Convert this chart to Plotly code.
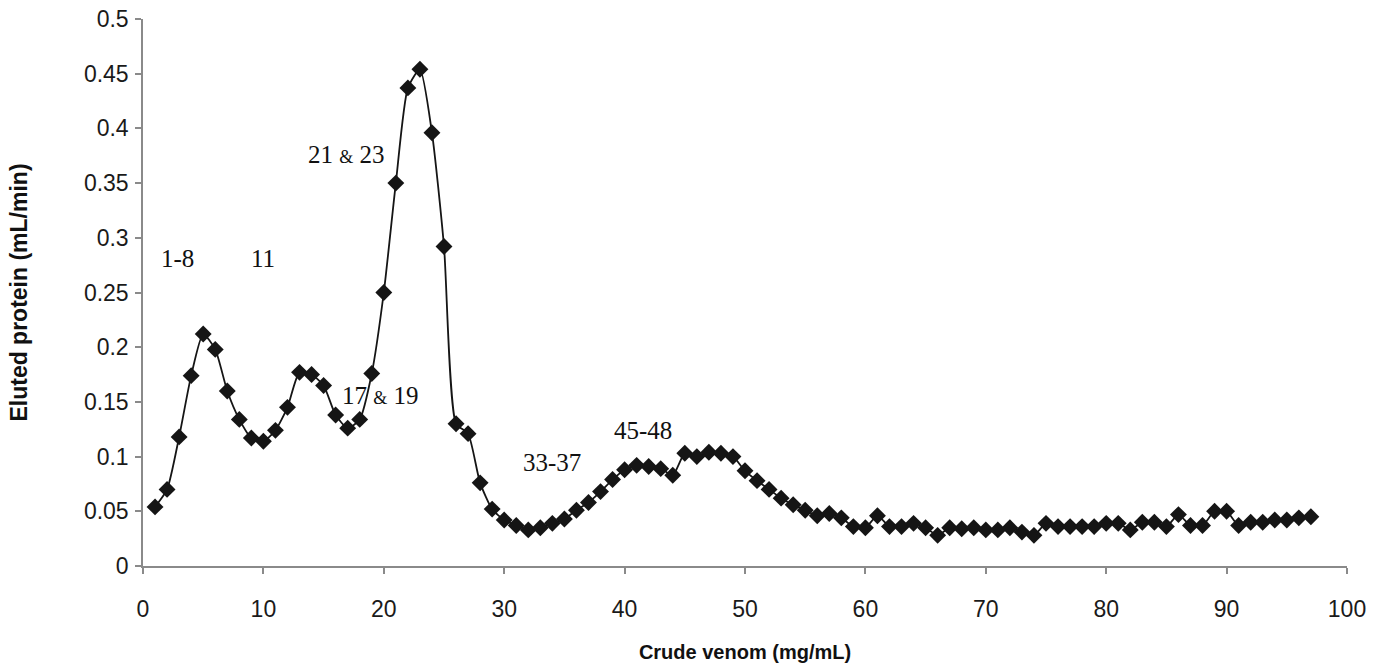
import plotly.graph_objects as go

# Fraction number / crude venom concentration (mg/mL)
fraction = list(range(1, 98))

# Eluted protein (mL/min) for each fraction
eluted = [
    0.054, 0.070, 0.118, 0.174, 0.212, 0.198, 0.160, 0.134, 0.117, 0.114,
    0.124, 0.145, 0.177, 0.175, 0.165, 0.138, 0.126, 0.134, 0.176, 0.250,
    0.350, 0.437, 0.454, 0.396, 0.292, 0.130, 0.121, 0.076, 0.052, 0.042,
    0.037, 0.033, 0.035, 0.039, 0.043, 0.051, 0.058, 0.068, 0.079, 0.088,
    0.092, 0.091, 0.089, 0.083, 0.103, 0.100, 0.104, 0.103, 0.100, 0.087,
    0.078, 0.070, 0.062, 0.056, 0.051, 0.046, 0.048, 0.044, 0.036, 0.035,
    0.046, 0.036, 0.036, 0.039, 0.035, 0.028, 0.035, 0.034, 0.035, 0.033,
    0.033, 0.035, 0.031, 0.028, 0.039, 0.036, 0.036, 0.036, 0.036, 0.039,
    0.039, 0.033, 0.040, 0.040, 0.036, 0.047, 0.037, 0.037, 0.050, 0.050,
    0.037, 0.040, 0.040, 0.042, 0.042, 0.044, 0.045,
]

# Peak labels and where they sit in data coordinates
peak_labels = ["1-8", "11", "21 & 23", "17 & 19", "33-37", "45-48"]
peak_x = [2.9, 10.0, 16.9, 19.7, 34.0, 41.5]
peak_y = [0.281, 0.281, 0.376, 0.156, 0.095, 0.124]

x_ticks = [0, 10, 20, 30, 40, 50, 60, 70, 80, 90, 100]
y_ticks = [0, 0.05, 0.1, 0.15, 0.2, 0.25, 0.3, 0.35, 0.4, 0.45, 0.5]
y_tick_text = ["0", "0.05", "0.1", "0.15", "0.2", "0.25", "0.3", "0.35", "0.4", "0.45", "0.5"]

ink = "#151515"
axis_grey = "#8a8a8a"
tick_font = dict(family="Liberation Sans Narrow, Arial Narrow, Liberation Sans, sans-serif",
                 size=23, color="#1a1a1a")

fig = go.Figure()
fig.add_trace(go.Scatter(
    x=fraction,
    y=eluted,
    mode="lines+markers",
    line=dict(color=ink, width=1.8, shape="spline", smoothing=0.6),
    marker=dict(symbol="diamond", size=13, color=ink, line=dict(width=0)),
    showlegend=False,
    hoverinfo="x+y",
))


def label_html(t):
    # the ampersand is set a little smaller than the numbers
    return t.replace("&", "<span style='font-size:18px'>&amp;</span>")


for t, px, py in zip(peak_labels, peak_x, peak_y):
    fig.add_annotation(
        x=px, y=py, text=label_html(t), showarrow=False,
        font=dict(family="Liberation Serif, Times New Roman, serif", size=25, color="#111111"),
        xanchor="center", yanchor="middle",
    )

fig.update_layout(
    width=1382,
    height=667,
    margin=dict(l=143, r=35, t=19, b=101),
    paper_bgcolor="white",
    plot_bgcolor="white",
    font=dict(family="Liberation Sans, Arial, sans-serif", size=17, color="#222222"),
)

fig.update_xaxes(
    range=[0, 100],
    tickvals=x_ticks,
    ticks="outside", ticklen=6, tickwidth=1.5, tickcolor=axis_grey,
    showline=True, linecolor=axis_grey, linewidth=1.5,
    showgrid=False, zeroline=False,
    automargin=False,
    tickfont=tick_font,
    ticklabelstandoff=16,
    title=dict(text="<b>Crude venom (mg/mL)</b>",
               font=dict(family="Liberation Sans, Arial, sans-serif", size=20, color="#111111"),
               standoff=24),
)

fig.update_yaxes(
    range=[0, 0.5],
    tickvals=y_ticks,
    ticktext=y_tick_text,
    ticks="outside", ticklen=6, tickwidth=1.5, tickcolor=axis_grey,
    showline=True, linecolor=axis_grey, linewidth=1.5,
    showgrid=False, zeroline=False,
    automargin=False,
    tickfont=tick_font,
    ticklabelstandoff=2,
    title=dict(text="<b>Eluted protein (mL/min)</b>",
               font=dict(family="Liberation Sans, Arial, sans-serif", size=23, color="#111111"),
               standoff=50),
)

fig.write_html("out.html")
